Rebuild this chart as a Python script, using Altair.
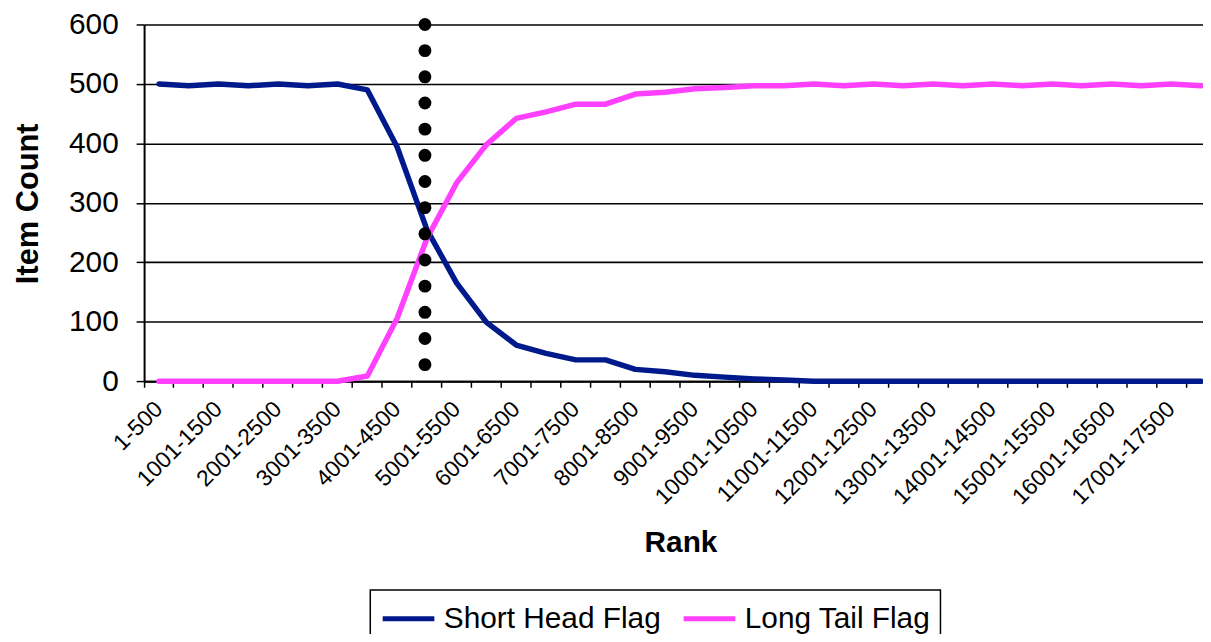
import altair as alt
import pandas as pd

# ---------------- data ----------------
ranks = [
    "1-500", "501-1000", "1001-1500", "1501-2000", "2001-2500", "2501-3000",
    "3001-3500", "3501-4000", "4001-4500", "4501-5000", "5001-5500", "5501-6000",
    "6001-6500", "6501-7000", "7001-7500", "7501-8000", "8001-8500", "8501-9000",
    "9001-9500", "9501-10000", "10001-10500", "10501-11000", "11001-11500", "11501-12000",
    "12001-12500", "12501-13000", "13001-13500", "13501-14000", "14001-14500", "14501-15000",
    "15001-15500", "15501-16000", "16001-16500", "16501-17000", "17001-17500", "17501-18000",
]
short_head = [500, 497, 500, 497, 500, 497, 500, 490, 394, 255, 165, 99,
              61, 47, 36, 36, 20, 16, 10, 7, 4, 2, 0, 0,
              0, 0, 0, 0, 0, 0, 0, 0, 0, 0, 0, 0]
long_tail = [0, 0, 0, 0, 0, 0, 0, 9, 106, 240, 334, 398,
             442, 453, 466, 466, 483, 486, 492, 494, 497, 497, 500, 497,
             500, 497, 500, 497, 500, 497, 500, 497, 500, 497, 500, 497]
series_names = ["Short Head Flag", "Long Tail Flag"]
series_colors = ["#001a8c", "#ff40ff"]
y_ticks = [0, 100, 200, 300, 400, 500, 600]

marker_rank = ["4501-5000"]
marker_top = [600]
marker_bottom = [28]

rows = []
for i, r in enumerate(ranks):
    rows.append({"rank": r, "series": series_names[0], "count": short_head[i], "order": i})
    rows.append({"rank": r, "series": series_names[1], "count": long_tail[i], "order": i})
df = pd.DataFrame(rows)
marker = pd.DataFrame({"rank": marker_rank, "top": marker_top, "bottom": marker_bottom})

# ---------------- style ----------------
FONT = "Liberation Sans"
W, H = 1066, 359.2
X_RANGE = 1079
Y_MAX = 600
dot_gap = (marker_top[0] - marker_bottom[0]) * H / Y_MAX / 13

x_scale = alt.Scale(domain=ranks, range=[0, X_RANGE], paddingInner=0, paddingOuter=0)
y_scale = alt.Scale(domain=[0, Y_MAX], nice=False)

x_axis = alt.Axis(
    title="Rank", titleFont=FONT, titleFontSize=30, titleFontWeight="bold", titleColor="black",
    titleX=540, titleY=162, titleAlign="center", titleBaseline="middle", titleAnchor="middle",
    labelFont=FONT, labelFontSize=23, labelColor="black", labelAngle=315,
    labelAlign="right", labelBaseline="middle", labelPadding=18, labelOverlap=False,
    labelBound=False, labelFlush=False,
    labelExpr="(indexof(datum.value, '001-') >= 0 || datum.value == '1-500') ? datum.value : ''",
    bandPosition=0, tickSize=6, tickWidth=1.5, tickColor="black",
    domainColor="black", domainWidth=2, grid=False,
)
y_axis = alt.Axis(
    title="Item Count", titleFont=FONT, titleFontSize=31, titleFontWeight="bold", titleColor="black",
    titleAngle=270, titleX=-116, titleY=180, titleAlign="center", titleBaseline="middle",
    values=y_ticks, labelFont=FONT, labelFontSize=30, labelColor="black", labelPadding=18,
    tickSize=8, tickWidth=1.5, tickColor="black",
    domainColor="black", domainWidth=2,
    grid=True, gridColor="black", gridWidth=1.6, gridOpacity=1,
)

lines = alt.Chart(df).mark_line(strokeWidth=5.5, strokeCap="round", strokeJoin="round").encode(
    x=alt.X("rank:N", scale=x_scale, sort=ranks, axis=x_axis),
    y=alt.Y("count:Q", scale=y_scale, axis=y_axis),
    color=alt.Color(
        "series:N",
        scale=alt.Scale(domain=series_names, range=series_colors),
        legend=alt.Legend(
            title=None, orient="none", legendX=227.7, legendY=569.3, direction="horizontal",
            symbolType="stroke", symbolSize=2704, symbolStrokeWidth=5, clipHeight=38,
            labelFont=FONT, labelFontSize=30, labelColor="black", labelLimit=600,
            labelOffset=7, columnPadding=20, padding=10,
            fillColor="white", strokeColor="black",
        ),
    ),
    order="order:Q",
)

dots = alt.Chart(marker).mark_rule(
    color="black", strokeWidth=13, strokeCap="round",
    strokeDash=[0.01, dot_gap - 0.01], xOffset=-2,
).encode(
    x=alt.X("rank:N", scale=x_scale, sort=ranks, axis=x_axis),
    y=alt.Y("top:Q", scale=y_scale, axis=y_axis),
    y2="bottom:Q",
)

chart = alt.layer(lines, dots).properties(
    width=W, height=H,
    padding={"left": 137, "top": 14.5, "right": 0, "bottom": 252},
    autosize=alt.AutoSizeParams(type="none"),
    background="white",
).configure_view(strokeWidth=0).configure_legend(strokeColor="black", strokeWidth=1.5)

chart.save("out.html", embed_options={"renderer": "svg", "actions": False})
